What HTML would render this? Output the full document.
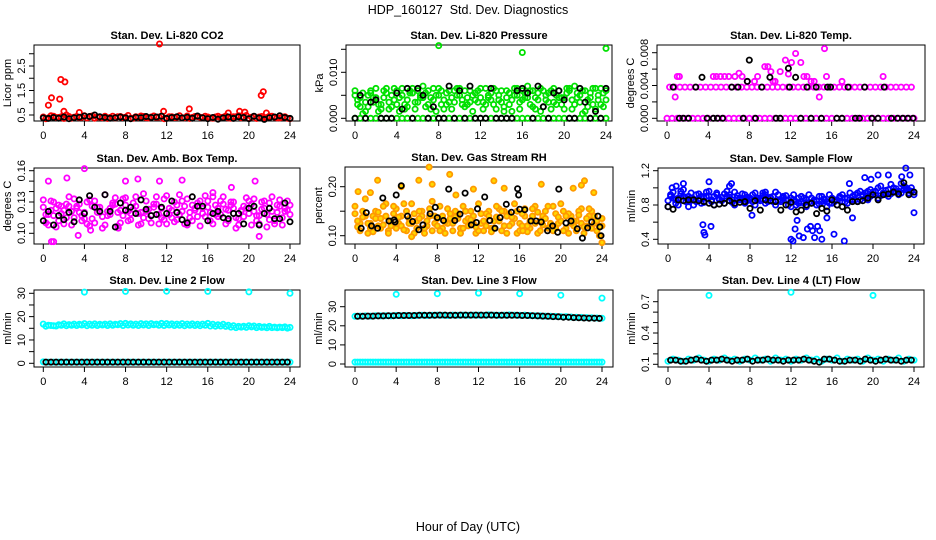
<!DOCTYPE html>
<html><head><meta charset="utf-8"><style>
html,body{margin:0;padding:0;background:#fff}
svg{display:block;font-family:"Liberation Sans",sans-serif}
</style></head><body>
<svg id="chart" width="936" height="540" viewBox="0 0 936 540">
<rect x="0" y="0" width="936" height="540" fill="#fff"/>
<text x="468" y="14" font-size="12.5" text-anchor="middle">HDP_160127&#160; Std. Dev. Diagnostics</text>
<text x="468" y="531" font-size="12.5" text-anchor="middle">Hour of Day (UTC)</text>
<g id="panels"></g>
</svg>
<script>
// ---- data ----
const hours = [0,0.5,1,1.5,2,2.5,3,3.5,4,4.5,5,5.5,6,6.5,7,7.5,8,8.5,9,9.5,10,10.5,11,11.5,12,12.5,13,13.5,14,14.5,15,15.5,16,16.5,17,17.5,18,18.5,19,19.5,20,20.5,21,21.5,22,22.5,23,23.5,24];
const hoursB = [0.25,0.75,1.25,1.75,2.25,2.75,3.25,3.75,4.25,4.75,5.25,5.75,6.25,6.75,7.25,7.75,8.25,8.75,9.25,9.75,10.25,10.75,11.25,11.75,12.25,12.75,13.25,13.75,14.25,14.75,15.25,15.75,16.25,16.75,17.25,17.75,18.25,18.75,19.25,19.75,20.25,20.75,21.25,21.75,22.25,22.75,23.25,23.75];
const xTicks = [0,4,8,12,16,20,24];

// P1 CO2
const co2A = [0.42,0.38,0.45,0.40,0.36,0.44,0.41,0.39,0.47,0.43,0.37,0.42,0.45,0.40,0.38,0.44,0.41,0.36,0.43,0.46,0.39,0.42,0.40,0.45,0.37,0.43,0.41,0.38,0.46,0.40,0.44,0.39,0.42,0.37,0.45,0.41,0.38,0.43,0.47,0.40,0.36,0.44,0.42,0.39,0.45,0.41,0.38,0.43,0.35];
const co2B = [0.35,0.47,0.40,0.43,0.50,0.37,0.44,0.41,0.38,0.46,0.42,0.39,0.36,0.45,0.43,0.40,0.48,0.37,0.41,0.44,0.38,0.46,0.42,0.35,0.43,0.40,0.47,0.39,0.36,0.44,0.41,0.45,0.38,0.42,0.40,0.46,0.37,0.43,0.39,0.48,0.41,0.36,0.44,0.40,0.45,0.38,0.42,0.37];
const co2OutX = [0.5,0.8,1.6,1.7,2.1,2.0,3.5,11.3,11.7,14.2,18.0,19.1,19.6,21.2,21.4,21.7];
const co2OutY = [0.9,1.2,1.15,1.95,1.85,0.65,0.6,3.4,0.65,0.75,0.58,0.65,0.62,1.3,1.45,0.58];
const co2K = [0.38,0.36,0.40,0.37,0.42,0.35,0.39,0.41,0.46,0.44,0.50,0.43,0.40,0.37,0.39,0.42,0.38,0.35,0.41,0.39,0.44,0.40,0.42,0.45,0.36,0.40,0.43,0.38,0.41,0.37,0.46,0.39,0.35,0.40,0.33,0.38,0.42,0.36,0.43,0.40,0.35,0.45,0.38,0.32,0.39,0.42,0.47,0.40,0.36];

// P2 Pressure
const presZero = [0,0,0,0,0,0,0,0,0,0,0,0,0,0,0,0,0,0,0,0,0,0,0,0,0,0,0,0,0,0,0,0,0,0,0,0,0,0,0,0,0,0,0,0,0,0,0,0,0];
const presA = [0.0060,0.0045,0.0015,0.0055,0.0065,0.0020,0.0055,0.0025,0.0060,0.0050,0.0040,0.0065,0.0035,0.0070,0.0030,0.0065,0.0050,0.0020,0.0060,0.0035,0.0065,0.0025,0.0060,0.0040,0.0065,0.0030,0.0055,0.0020,0.0060,0.0045,0.0015,0.0065,0.0040,0.0070,0.0025,0.0055,0.0060,0.0035,0.0065,0.0045,0.0020,0.0060,0.0070,0.0035,0.0015,0.0055,0.0065,0.0030,0.0060];
const presB = [0.0030,0.0010,0.0050,0.0035,0.0015,0.0045,0.0020,0.0040,0.0015,0.0030,0.0055,0.0020,0.0050,0.0025,0.0045,0.0015,0.0030,0.0055,0.0020,0.0050,0.0030,0.0045,0.0015,0.0035,0.0020,0.0050,0.0030,0.0040,0.0015,0.0030,0.0050,0.0020,0.0055,0.0030,0.0045,0.0015,0.0040,0.0020,0.0050,0.0030,0.0055,0.0020,0.0045,0.0010,0.0040,0.0030,0.0050,0.0025];
const presC = [0.0050,0.0025,0.0035,0.0060,0.0045,0.0030,0.0065,0.0050,0.0030,0.0065,0.0025,0.0055,0.0060,0.0045,0.0060,0.0040,0.0065,0.0040,0.0035,0.0060,0.0050,0.0060,0.0035,0.0055,0.0045,0.0065,0.0040,0.0060,0.0035,0.0060,0.0040,0.0050,0.0060,0.0045,0.0060,0.0040,0.0025,0.0055,0.0035,0.0060,0.0045,0.0065,0.0030,0.0050,0.0060,0.0045,0.0020,0.0065,0.0040];
const presD = [0.0040,0.0055,0.0025,0.0045,0.0030,0.0060,0.0035,0.0065,0.0045,0.0020,0.0060,0.0035,0.0045,0.0055,0.0020,0.0050,0.0060,0.0030,0.0045,0.0065,0.0040,0.0030,0.0050,0.0060,0.0035,0.0045,0.0065,0.0050,0.0025,0.0055,0.0065,0.0035,0.0045,0.0060,0.0020,0.0065,0.0050,0.0060,0.0030,0.0045,0.0065,0.0040,0.0055,0.0060,0.0025,0.0065,0.0040,0.0055];
const presOutX = [8,16,24];
const presOutY = [0.0158,0.0143,0.0152];
const presK = [0,0.0050,0,0.0035,0.0040,0,0,0,0.0055,0.0020,0.0065,0,0.0065,0.0050,0,0.0025,0,0,0.0070,0,0.0060,0,0.0070,0,0,0,0.0065,0,0,0,0,0.0060,0.0065,0.0055,0,0.0070,0.0025,0,0.0055,0.0060,0.0040,0,0,0.0065,0.0035,0,0.0015,0,0.0065];

// P3 Li-820 Temp
const tempZero = [0,0,0,0,0,0,0,0,0,0,0,0,0,0,0,0,0,0,0,0,0,0,0,0,0,0,0,0,0,0,0,0,0,0,0,0,0,0,0,0,0,0,0,0,0,0,0,0,0];
const tempMid = [0.0038,0.0038,0.0038,0.0038,0.0038,0.0038,0.0038,0.0038,0.0038,0.0038,0.0038,0.0038,0.0038,0.0038,0.0038,0.0038,0.0038,0.0038,0.0038,0.0038,0.0038,0.0038,0.0038,0.0038,0.0038,0.0038,0.0038,0.0038,0.0038,0.0038,0.0038,0.0038,0.0038,0.0038,0.0038,0.0038,0.0038,0.0038,0.0038,0.0038,0.0038,0.0038,0.0038,0.0038,0.0038,0.0038,0.0038,0.0038];
const tempOutX = [0.8,1.0,1.2,4.5,4.8,5.2,5.6,6.0,6.6,7.0,7.3,7.8,8.5,8.8,9.5,9.8,10.1,10.3,10.5,11.0,11.5,11.8,12.1,12.5,13.0,13.3,13.6,14.0,14.3,14.8,15.3,15.5,17.0,21.0];
const tempOutY = [0.0026,0.0051,0.0051,0.0051,0.0051,0.0051,0.0051,0.0051,0.0051,0.0055,0.0051,0.0045,0.0045,0.0051,0.0063,0.0063,0.0057,0.0045,0.0045,0.0057,0.0071,0.0054,0.0068,0.0079,0.0068,0.0051,0.0051,0.0045,0.0045,0.0026,0.0085,0.0051,0.0045,0.0051];
const tempKX = [0.6,1.2,1.6,2.1,2.8,3.4,3.9,4.5,4.9,5.4,6.3,6.9,7.4,7.8,8.0,8.6,9.2,10.0,10.6,11.0,11.8,11.9,12.5,13.0,13.6,14.0,14.5,15.0,15.6,15.9,16.5,17.0,17.6,18.3,18.7,19.2,19.9,20.5,21.1,21.8,22.4,22.9,23.4,23.9];
const tempKY = [0.0038,0,0,0,0.0038,0.0050,0,0,0,0,0.0038,0.0038,0,0.0045,0.0071,0,0.0038,0.0050,0,0,0.0061,0.0038,0.0050,0,0.0038,0,0.0038,0,0.0038,0.0038,0,0,0.0038,0,0,0.0038,0,0,0.0038,0,0,0,0,0];

// P4 Amb box temp
const ambA = [0.125,0.118,0.130,0.112,0.122,0.135,0.115,0.128,0.120,0.132,0.110,0.125,0.137,0.118,0.128,0.122,0.134,0.113,0.126,0.120,0.131,0.117,0.128,0.124,0.136,0.115,0.127,0.121,0.133,0.112,0.129,0.119,0.125,0.135,0.116,0.128,0.122,0.130,0.114,0.126,0.119,0.133,0.117,0.124,0.129,0.112,0.126,0.121,0.118];
const ambB = [0.110,0.131,0.106,0.126,0.115,0.108,0.124,0.117,0.109,0.126,0.120,0.105,0.117,0.129,0.107,0.133,0.112,0.123,0.108,0.138,0.114,0.125,0.109,0.133,0.118,0.111,0.137,0.109,0.120,0.124,0.107,0.136,0.112,0.118,0.131,0.109,0.127,0.105,0.122,0.134,0.108,0.117,0.123,0.106,0.135,0.120,0.108,0.131];
const ambC = [0.118,0.122,0.124,0.119,0.128,0.121,0.126,0.112,0.130,0.114,0.125,0.116,0.121,0.127,0.120,0.117,0.121,0.129,0.119,0.115,0.123,0.128,0.118,0.113,0.124,0.130,0.118,0.126,0.115,0.122,0.131,0.116,0.120,0.127,0.118,0.123,0.130,0.115,0.121,0.124,0.128,0.112,0.130,0.118,0.121,0.127,0.115,0.122];
const ambD = [0.132,0.108,0.117,0.127,0.109,0.126,0.133,0.120,0.114,0.107,0.131,0.120,0.108,0.124,0.134,0.110,0.127,0.119,0.135,0.109,0.121,0.110,0.135,0.115,0.109,0.122,0.113,0.131,0.108,0.127,0.116,0.124,0.131,0.109,0.124,0.135,0.112,0.124,0.108,0.116,0.131,0.121,0.109,0.131,0.113,0.109,0.132,0.124,0.127];
const ambOutX = [0.5,1.0,2.3,4.0,4.6,8.0,9.2,11.3,13.5,0.8,3.4,7.3,16.5,20.6,21.0,18.3];
const ambOutY = [0.150,0.092,0.153,0.162,0.103,0.150,0.152,0.150,0.151,0.092,0.098,0.105,0.139,0.150,0.097,0.144];
const ambK = [0.112,0.121,0.108,0.117,0.113,0.120,0.111,0.132,0.119,0.136,0.125,0.121,0.137,0.121,0.106,0.129,0.122,0.125,0.119,0.132,0.123,0.117,0.118,0.125,0.119,0.131,0.120,0.113,0.110,0.135,0.126,0.126,0.112,0.119,0.121,0.115,0.114,0.119,0.119,0.109,0.124,0.126,0.108,0.119,0.124,0.114,0.114,0.129,0.111];

// P5 Gas stream RH
const rhA = [0.160,0.125,0.175,0.115,0.150,0.135,0.165,0.120,0.155,0.140,0.110,0.165,0.130,0.150,0.120,0.170,0.135,0.115,0.155,0.125,0.145,0.160,0.120,0.140,0.165,0.110,0.150,0.130,0.155,0.120,0.145,0.165,0.125,0.140,0.115,0.160,0.130,0.150,0.120,0.145,0.165,0.115,0.140,0.130,0.155,0.120,0.150,0.110,0.135];
const rhB = [0.130,0.150,0.105,0.140,0.120,0.160,0.110,0.145,0.125,0.165,0.135,0.105,0.150,0.115,0.140,0.125,0.160,0.105,0.135,0.150,0.115,0.130,0.150,0.105,0.125,0.145,0.115,0.160,0.110,0.140,0.125,0.105,0.145,0.120,0.155,0.105,0.140,0.115,0.160,0.125,0.110,0.145,0.120,0.150,0.105,0.140,0.125,0.100];
const rhC = [0.145,0.110,0.140,0.125,0.135,0.115,0.140,0.130,0.115,0.120,0.150,0.125,0.115,0.140,0.130,0.110,0.120,0.140,0.125,0.110,0.135,0.115,0.135,0.125,0.110,0.130,0.140,0.115,0.130,0.150,0.120,0.135,0.110,0.155,0.130,0.125,0.110,0.135,0.125,0.115,0.130,0.140,0.125,0.110,0.125,0.135,0.115,0.130,0.120];
const rhD = [0.118,0.138,0.125,0.108,0.148,0.122,0.105,0.160,0.138,0.112,0.125,0.145,0.135,0.105,0.155,0.140,0.110,0.128,0.145,0.138,0.105,0.150,0.132,0.118,0.145,0.120,0.108,0.138,0.150,0.105,0.138,0.150,0.120,0.108,0.140,0.148,0.122,0.160,0.110,0.138,0.150,0.105,0.130,0.142,0.118,0.155,0.140,0.118];
const rhOutX = [0.3,1.5,2.2,4.5,6.2,7.2,7.5,9.2,9.8,11.5,13.5,14.5,18.1,21.2,22.0,22.3,23.2,24.0,5.5,16.3];
const rhOutY = [0.190,0.188,0.213,0.200,0.213,0.240,0.205,0.225,0.183,0.195,0.212,0.197,0.205,0.197,0.203,0.212,0.188,0.086,0.098,0.110];
const rhKX = [0.6,1.1,1.6,2.2,2.7,3.3,3.8,3.9,4.0,4.5,5.1,5.6,6.2,6.6,7.3,7.8,8.0,8.6,9.1,9.7,10.2,10.7,11.3,11.8,11.9,12.6,13.1,13.6,14.1,14.7,15.2,15.8,15.9,16.0,16.5,17.1,17.6,18.1,18.7,19.2,19.7,19.8,20.5,21.0,21.6,22.1,22.6,23.0,23.6,23.8,23.9];
const rhKY = [0.115,0.147,0.120,0.115,0.177,0.130,0.132,0.128,0.183,0.202,0.140,0.129,0.112,0.122,0.145,0.158,0.137,0.131,0.195,0.131,0.144,0.187,0.122,0.127,0.155,0.179,0.131,0.115,0.137,0.164,0.148,0.196,0.183,0.154,0.153,0.130,0.130,0.128,0.110,0.120,0.107,0.195,0.126,0.130,0.114,0.095,0.116,0.128,0.140,0.118,0.100];

// P6 Sample flow
const sfA = [0.85,0.95,0.88,0.98,0.90,0.86,0.93,0.88,0.96,0.90,0.87,0.93,0.89,0.95,0.86,0.92,0.88,0.94,0.87,0.92,0.89,0.95,0.86,0.91,0.88,0.84,0.90,0.86,0.88,0.85,0.90,0.84,0.88,0.86,0.92,0.88,0.90,0.94,0.92,0.96,0.95,1.00,0.94,0.98,1.00,0.96,1.02,0.97,0.95];
const sfB = [0.90,0.82,0.93,0.84,0.88,0.92,0.82,0.90,0.84,0.92,0.85,0.90,0.83,0.91,0.86,0.89,0.84,0.88,0.91,0.84,0.90,0.85,0.88,0.80,0.86,0.82,0.88,0.83,0.86,0.81,0.87,0.82,0.84,0.88,0.83,0.86,0.92,0.86,0.94,0.90,0.96,0.91,0.97,0.93,0.99,0.94,1.00,0.96];
const sfC = [0.78,0.88,0.80,0.90,0.84,0.80,0.87,0.83,0.90,0.80,0.86,0.82,0.92,0.80,0.88,0.82,0.86,0.80,0.85,0.82,0.88,0.80,0.84,0.86,0.78,0.80,0.84,0.78,0.82,0.80,0.84,0.78,0.82,0.80,0.84,0.82,0.86,0.84,0.90,0.86,0.92,0.88,0.94,0.90,0.96,0.92,0.98,0.94,0.92];
const sfD = [0.92,0.86,0.96,0.88,0.94,0.84,0.90,0.95,0.86,0.94,0.89,0.96,0.86,0.88,0.93,0.85,0.92,0.86,0.94,0.88,0.84,0.92,0.90,0.86,0.92,0.88,0.82,0.92,0.84,0.90,0.86,0.92,0.86,0.90,0.88,0.94,0.86,0.96,0.88,0.98,0.92,1.02,0.92,1.04,0.95,1.05,0.98,1.00];
const sfOutX = [0.4,0.8,1.5,2.0,3.4,3.5,3.6,4.0,4.2,6.0,6.2,8.2,9.5,12.2,12.4,12.6,12.8,13.2,13.6,13.9,14.1,14.3,14.6,14.8,15.0,16.2,17.2,17.7,18.0,19.2,19.8,20.5,21.5,22.8,23.2,23.6,24.0,12.0,15.5];
const sfOutY = [1.00,1.02,1.05,0.78,0.57,0.48,0.45,1.07,0.55,1.02,1.05,0.68,0.95,0.38,0.52,0.62,0.44,0.42,0.52,0.55,0.50,0.42,0.55,0.50,0.40,0.46,0.38,1.05,0.65,1.12,1.10,1.15,1.15,1.13,1.23,1.15,0.71,0.40,0.65];
const sfK = [0.78,0.75,0.86,0.85,0.86,0.86,0.85,0.84,0.82,0.80,0.81,0.82,0.85,0.82,0.83,0.84,0.76,0.85,0.74,0.86,0.85,0.84,0.74,0.80,0.83,0.72,0.74,0.80,0.82,0.70,0.76,0.73,0.86,0.80,0.78,0.74,0.84,0.84,0.85,0.88,0.92,0.86,0.92,0.93,0.95,0.93,1.06,0.92,0.95];

// P7 Line 2 flow
const l2A = [16.8,16.3,16.1,16.5,16.9,16.6,16.8,16.7,17.0,16.8,16.9,16.7,16.8,16.9,16.7,17.0,17.1,16.9,16.8,17.0,16.9,17.0,16.8,17.1,17.0,16.9,16.8,17.0,16.8,16.9,16.7,16.8,17.1,16.7,16.5,16.7,16.3,16.1,15.8,15.9,16.1,16.0,15.8,15.6,15.8,15.5,15.5,15.6,15.4];
const l2B = [15.9,16.2,16.0,16.3,16.1,16.3,16.2,16.4,16.1,16.3,16.2,16.4,16.2,16.3,16.5,16.2,16.4,16.3,16.2,16.4,16.2,16.5,16.3,16.2,16.4,16.2,16.3,16.1,16.3,16.2,16.1,16.3,16.0,15.9,16.0,15.8,15.5,15.3,15.5,15.4,15.6,15.3,15.4,15.2,15.3,15.2,15.3,15.1];
const l2Low = [0.6,0.5,0.5,0.5,0.5,0.5,0.5,0.5,0.5,0.5,0.5,0.5,0.5,0.5,0.5,0.5,0.5,0.5,0.5,0.5,0.5,0.5,0.5,0.5,0.5,0.5,0.5,0.5,0.5,0.5,0.5,0.5,0.5,0.5,0.5,0.5,0.5,0.5,0.5,0.5,0.5,0.5,0.5,0.5,0.5,0.5,0.5,0.5,0.5];
const l2OutX = [4,8,12,16,20,24];
const l2OutY = [30.5,30.8,30.9,30.8,30.6,30.0];
const l2K = [0.5,0.5,0.5,0.5,0.5,0.5,0.5,0.5,0.5,0.5,0.5,0.5,0.5,0.5,0.5,0.5,0.5,0.5,0.5,0.5,0.5,0.5,0.5,0.5,0.5,0.5,0.5,0.5,0.5,0.5,0.5,0.5,0.5,0.5,0.5,0.5,0.5,0.5,0.5,0.5,0.5,0.5,0.5,0.5,0.5,0.5,0.5,0.5];

// P8 Line 3 flow
const l3A = [25.0,25.1,25.2,25.1,25.3,25.2,25.3,25.2,25.4,25.3,25.4,25.3,25.4,25.5,25.4,25.5,25.6,25.5,25.4,25.6,25.5,25.6,25.5,25.6,25.6,25.5,25.7,25.6,25.5,25.6,25.7,25.6,25.5,25.6,25.4,25.3,25.2,25.1,25.0,24.9,24.8,24.8,24.6,24.5,24.4,24.3,24.2,24.1,24.0];
const l3Low = [1.0,1.0,1.0,1.0,1.0,1.0,1.0,1.0,1.0,1.0,1.0,1.0,1.0,1.0,1.0,1.0,1.0,1.0,1.0,1.0,1.0,1.0,1.0,1.0,1.0,1.0,1.0,1.0,1.0,1.0,1.0,1.0,1.0,1.0,1.0,1.0,1.0,1.0,1.0,1.0,1.0,1.0,1.0,1.0,1.0,1.0,1.0,1.0,1.0];
const l3OutX = [4,8,12,16,20,24];
const l3OutY = [36.5,36.8,37.1,36.8,36.0,34.5];
const l3K = [25.0,25.0,25.1,25.1,25.2,25.2,25.3,25.3,25.4,25.4,25.4,25.4,25.5,25.5,25.5,25.5,25.6,25.6,25.5,25.5,25.6,25.6,25.6,25.6,25.6,25.6,25.6,25.5,25.5,25.5,25.5,25.5,25.4,25.4,25.3,25.2,25.1,25.0,24.8,24.7,24.5,24.5,24.3,24.2,24.1,24.0,24.0,23.9];

// P9 Line 4 flow
const l4A = [0.13,0.15,0.14,0.13,0.15,0.14,0.16,0.14,0.13,0.15,0.14,0.16,0.14,0.15,0.13,0.15,0.14,0.16,0.14,0.15,0.13,0.16,0.14,0.15,0.13,0.15,0.14,0.16,0.14,0.15,0.13,0.15,0.14,0.16,0.13,0.15,0.14,0.15,0.13,0.16,0.14,0.15,0.13,0.15,0.14,0.16,0.13,0.15,0.14];
const l4OutX = [4,12,20];
const l4OutY = [0.76,0.79,0.76];
const l4K = [0.14,0.14,0.13,0.13,0.14,0.15,0.14,0.13,0.14,0.14,0.15,0.14,0.13,0.14,0.14,0.15,0.13,0.14,0.14,0.15,0.14,0.14,0.13,0.14,0.14,0.14,0.15,0.14,0.13,0.12,0.15,0.15,0.14,0.13,0.13,0.14,0.14,0.13,0.15,0.14,0.13,0.14,0.15,0.14,0.14,0.13,0.14,0.14];

// ---- drawing ----
const NS = 'http://www.w3.org/2000/svg';
const root = document.getElementById('panels');
function mk(tag, attrs, parent) {
  const e = document.createElementNS(NS, tag);
  for (const k in attrs) e.setAttribute(k, attrs[k]);
  parent.appendChild(e);
  return e;
}
function makePanel(p) {
  const g = mk('g', {}, root);
  
  
  const xs = v => p.x0 + (p.x24 - p.x0) * v / 24;
  const ys = v => p.ya[1] + (v - p.ya[0]) * (p.yb[1] - p.ya[1]) / (p.yb[0] - p.ya[0]);
  const t = mk('text', {x: (p.l + p.r) / 2, y: p.t - 6, 'font-size': 11, 'font-weight': 'bold', 'text-anchor': 'middle'}, g);
  t.textContent = p.title;
  
  
  const box = mk('rect', {x: p.l, y: p.t, width: p.r - p.l, height: p.b - p.t, fill: 'none', stroke: '#000', 'stroke-width': 1}, g);
  
  
  const xa = mk('g', {}, g);
  
  
  mk('line', {x1: xs(0), x2: xs(24), y1: p.b, y2: p.b, stroke: '#000'}, xa);
  xTicks.forEach(v => {
    mk('line', {x1: xs(v), x2: xs(v), y1: p.b, y2: p.b + 5, stroke: '#000'}, xa);
    const lb = mk('text', {x: xs(v), y: p.b + 18, 'font-size': 11, 'text-anchor': 'middle'}, xa);
    lb.textContent = v;
    
    
  });
  const ya = mk('g', {}, g);
  
  
  mk('line', {x1: p.l, x2: p.l, y1: ys(p.ticks[0]), y2: ys(p.ticks[p.ticks.length - 1]), stroke: '#000'}, ya);
  p.ticks.forEach((v, i) => {
    mk('line', {x1: p.l - 5, x2: p.l, y1: ys(v), y2: ys(v), stroke: '#000'}, ya);
    if (p.labels[i] !== '') {
      const lb = mk('text', {x: 0, y: 0, 'font-size': 11, 'text-anchor': 'middle', transform: `translate(${p.l - 9},${ys(v)}) rotate(-90)`}, ya);
      lb.textContent = p.labels[i];
      
      
    }
  });
  const yt = mk('text', {x: 0, y: 0, 'font-size': 11, 'text-anchor': 'middle', transform: `translate(${p.l - 23},${(p.t + p.b) / 2}) rotate(-90)`}, g);
  yt.textContent = p.ytitle;
  
  
  p.series.forEach(s => {
    const sg = mk('g', {fill: s.fill || 'none', stroke: s.color, 'stroke-width': 1.8}, g);
    
    
    s.y.forEach((v, i) => {
      const c = mk('circle', {cx: xs(s.x[i]).toFixed(1), cy: ys(v).toFixed(1), r: 2.6}, sg);
      
      
    });
  });
}
const R = '#ff0000', G = '#00e000', M = '#ff00ff', B = '#0000ff', C = '#00ffff', K = '#000';
makePanel({name:'panel-co2', title:'Stan. Dev. Li-820 CO2', ytitle:'Licor ppm', l:34,r:300,t:45,b:121, x0:43.3,x24:290, ya:[0.5,115], yb:[2.5,66],
  ticks:[0.5,1,1.5,2,2.5,3], labels:['0.5','','1.5','','2.5',''],
  series:[{name:'co2-series-a',x:hours,y:co2A,color:R},{name:'co2-series-b',x:hoursB,y:co2B,color:R},{name:'co2-outliers',x:co2OutX,y:co2OutY,color:R},{name:'co2-black',x:hours,y:co2K,color:K}]});
makePanel({name:'panel-pressure', title:'Stan. Dev. Li-820 Pressure', ytitle:'kPa', l:346,r:612,t:45,b:121, x0:355,x24:606, ya:[0,118.3], yb:[0.01,72.3],
  ticks:[0,0.005,0.01,0.015], labels:['0.000','','0.010',''],
  series:[{name:'pressure-zero',x:hours,y:presZero,color:G},{name:'pressure-a',x:hours,y:presA,color:G},{name:'pressure-b',x:hoursB,y:presB,color:G},{name:'pressure-c',x:hours,y:presC,color:G},{name:'pressure-d',x:hoursB,y:presD,color:G},{name:'pressure-outliers',x:presOutX,y:presOutY,color:G},{name:'pressure-black',x:hours,y:presK,color:K}]});
makePanel({name:'panel-temp', title:'Stan. Dev. Li-820 Temp.', ytitle:'degrees C', l:657,r:925,t:45,b:121, x0:667,x24:914, ya:[0,118.3], yb:[0.008,52.7],
  ticks:[0,0.002,0.004,0.006,0.008], labels:['0.000','','0.004','','0.008'],
  series:[{name:'temp-zero',x:hours,y:tempZero,color:M},{name:'temp-mid',x:hoursB,y:tempMid,color:M},{name:'temp-outliers',x:tempOutX,y:tempOutY,color:M},{name:'temp-black',x:tempKX,y:tempKY,color:K}]});
makePanel({name:'panel-amb-box', title:'Stan. Dev. Amb. Box Temp.', ytitle:'degrees C', l:34,r:300,t:168,b:244, x0:43.3,x24:290, ya:[0.10,233.3], yb:[0.16,170.7],
  ticks:[0.10,0.11,0.12,0.13,0.14,0.15,0.16], labels:['0.10','','','0.13','','','0.16'],
  series:[{name:'amb-a',x:hours,y:ambA,color:M},{name:'amb-b',x:hoursB,y:ambB,color:M},{name:'amb-c',x:hoursB,y:ambC,color:M},{name:'amb-d',x:hours,y:ambD,color:M},{name:'amb-outliers',x:ambOutX,y:ambOutY,color:M},{name:'amb-black',x:hours,y:ambK,color:K}]});
makePanel({name:'panel-rh', title:'Stan. Dev. Gas Stream RH', ytitle:'percent', l:345,r:613,t:167,b:244, x0:355,x24:602, ya:[0.10,235.7], yb:[0.20,186.7],
  ticks:[0.10,0.15,0.20], labels:['0.10','','0.20'],
  series:[{name:'rh-a',x:hours,y:rhA,color:'#ff9a00',fill:'#ffd800'},{name:'rh-b',x:hoursB,y:rhB,color:'#ff9a00',fill:'#ffd800'},{name:'rh-c',x:hours,y:rhC,color:'#ff9a00',fill:'#ffd800'},{name:'rh-d',x:hoursB,y:rhD,color:'#ff9a00',fill:'#ffd800'},{name:'rh-outliers',x:rhOutX,y:rhOutY,color:'#ff9a00',fill:'#ffd800'},{name:'rh-black',x:rhKX,y:rhKY,color:K}]});
makePanel({name:'panel-sample-flow', title:'Stan. Dev. Sample Flow', ytitle:'ml/min', l:658,r:924,t:168,b:244, x0:668,x24:914, ya:[0.4,239.3], yb:[1.2,170.7],
  ticks:[0.4,0.6,0.8,1.0,1.2], labels:['0.4','','0.8','','1.2'],
  series:[{name:'sf-a',x:hours,y:sfA,color:B},{name:'sf-b',x:hoursB,y:sfB,color:B},{name:'sf-c',x:hours,y:sfC,color:B},{name:'sf-d',x:hoursB,y:sfD,color:B},{name:'sf-outliers',x:sfOutX,y:sfOutY,color:B},{name:'sf-black',x:hours,y:sfK,color:K}]});
makePanel({name:'panel-line2', title:'Stan. Dev. Line 2 Flow', ytitle:'ml/min', l:34,r:300,t:290,b:367, x0:43.3,x24:290, ya:[0,363.3], yb:[30,293.3],
  ticks:[0,5,10,15,20,25,30], labels:['0','','10','','20','','30'],
  series:[{name:'line2-a',x:hours,y:l2A,color:C},{name:'line2-b',x:hoursB,y:l2B,color:C},{name:'line2-low',x:hours,y:l2Low,color:C},{name:'line2-outliers',x:l2OutX,y:l2OutY,color:C},{name:'line2-black',x:hoursB,y:l2K,color:K}]});
makePanel({name:'panel-line3', title:'Stan. Dev. Line 3 Flow', ytitle:'ml/min', l:345,r:613,t:290,b:367, x0:355,x24:602, ya:[0,364], yb:[30,306.7],
  ticks:[0,10,20,30], labels:['0','10','20','30'],
  series:[{name:'line3-a',x:hours,y:l3A,color:C},{name:'line3-low',x:hours,y:l3Low,color:C},{name:'line3-low-b',x:hoursB,y:l3Low.slice(0,48),color:C},{name:'line3-outliers',x:l3OutX,y:l3OutY,color:C},{name:'line3-black',x:hoursB,y:l3K,color:K}]});
makePanel({name:'panel-line4', title:'Stan. Dev. Line 4 (LT) Flow', ytitle:'ml/min', l:658,r:924,t:290,b:367, x0:668,x24:914, ya:[0.1,364.3], yb:[0.7,301.7],
  ticks:[0.1,0.2,0.3,0.4,0.5,0.6,0.7], labels:['0.1','','','0.4','','','0.7'],
  series:[{name:'line4-a',x:hours,y:l4A,color:C},{name:'line4-outliers',x:l4OutX,y:l4OutY,color:C},{name:'line4-black',x:hoursB,y:l4K,color:K}]});
</script>
</body></html>
